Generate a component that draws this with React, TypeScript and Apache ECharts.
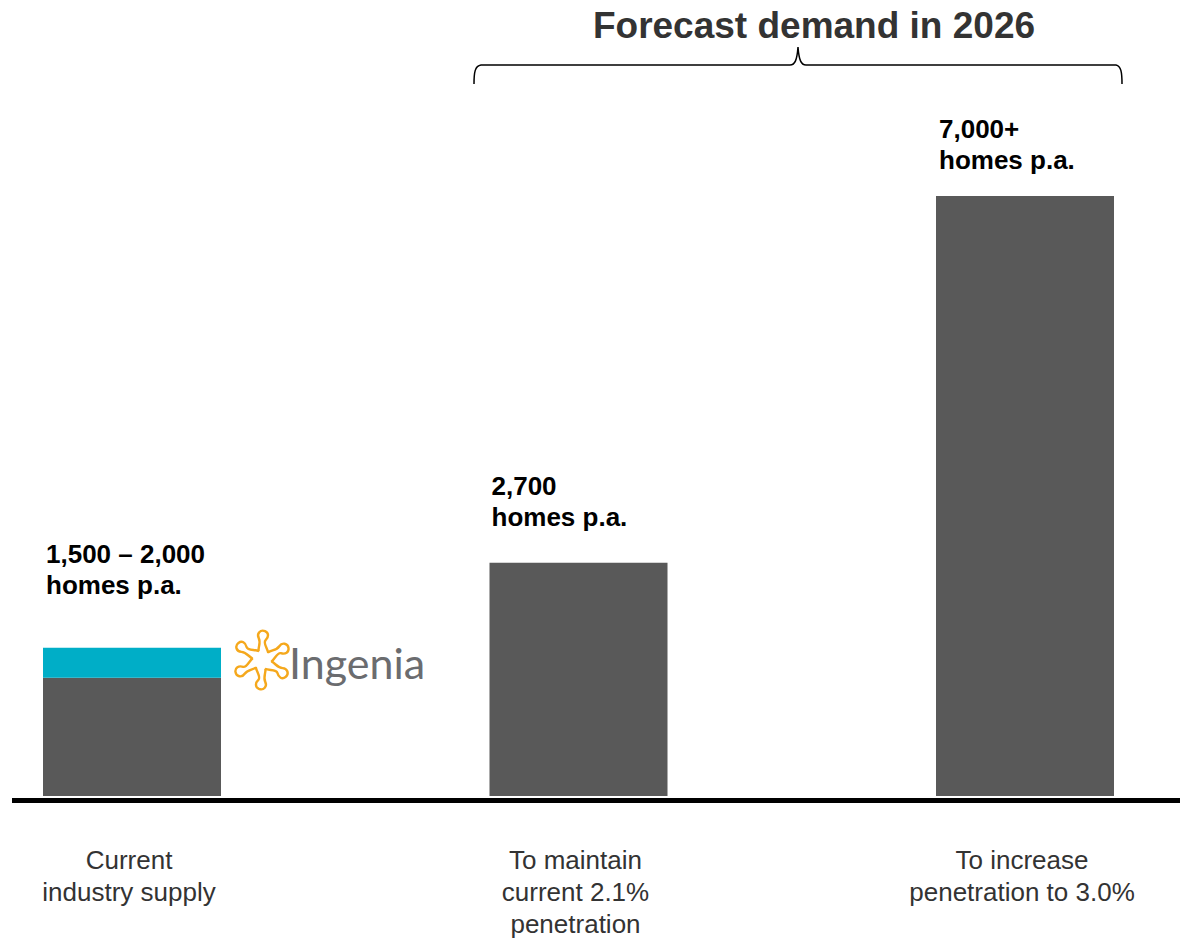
import React, { useEffect, useRef } from "react";
import * as echarts from "echarts";

const categories = [
  "Current\nindustry supply",
  "To maintain\ncurrent 2.1%\npenetration",
  "To increase\npenetration to 3.0%",
];
const baseValues = [1380, 2720, 7000];
const industryTopValues: (number | null)[] = [350, null, null];
const valueLabels = ["1,500 – 2,000\nhomes p.a.", "2,700\nhomes p.a.", "7,000+\nhomes p.a."];
const titleText = "Forecast demand in 2026";
const logoText = "Ingenia";

const labelOffsets = [
  [3, -109],
  [2, -92],
  [3, -83],
];

const FONT = "'Liberation Sans', Arial, Helvetica, sans-serif";

const bracketPath =
  "M474,84 C474,72 475,66 481,65 L790,65 C795,65 797,60 798,47 C799,60 801,65 806,65 L1116,65 C1121,66 1122,72 1122,84";
const petalPath =
  "M8,-5 C13,-6 17,-4 21,-7 C25,-10 30,-7 29,-2 C28,2 24,3 20,0 C17,-2 13,3 8,5";

export default function App() {
  const ref = useRef<HTMLDivElement>(null);
  useEffect(() => {
    if (!ref.current) return;
    echarts.graphic.registerShape("bracket", echarts.graphic.extendPath(bracketPath, {}));
    echarts.graphic.registerShape("petal", echarts.graphic.extendPath(petalPath, {}));
    const chart = echarts.init(ref.current, null, { renderer: "svg" });

    const labelStyle = {
      fontSize: 26,
      fontWeight: "bold" as const,
      color: "#000",
      lineHeight: 31,
      fontFamily: FONT,
      align: "left" as const,
      verticalAlign: "top" as const,
    };

    const petals = [0, 1, 2, 3, 4, 5].map((k) => ({
      type: "petal",
      x: 262,
      y: 660,
      rotation: (k * Math.PI) / 3 + 0.35,
      style: { stroke: "#F5A81C", fill: "none", lineWidth: 2.4 },
      z: 10,
    }));

    chart.setOption({
      animation: false,
      grid: { left: 132, right: 155, top: 196, bottom: 138, containLabel: false },
      xAxis: {
        type: "category",
        data: categories,
        boundaryGap: false,
        axisLine: { show: false },
        axisTick: { show: false },
        splitLine: { show: false },
        axisLabel: {
          interval: 0,
          margin: 48,
          fontSize: 26,
          lineHeight: 32,
          color: "#333",
          fontFamily: FONT,
          align: "center",
          padding: [0, 6, 0, 0],
        },
      },
      yAxis: {
        type: "value",
        min: 0,
        max: 7000,
        show: false,
        splitLine: { show: false },
      },
      series: [
        {
          type: "bar",
          stack: "supply",
          barWidth: 178,
          clip: false,
          itemStyle: { color: "#595959" },
          data: baseValues.map((v, i) => ({
            value: v,
            label:
              i === 0
                ? { show: false }
                : { show: true, formatter: valueLabels[i], position: labelOffsets[i], ...labelStyle },
          })),
        },
        {
          type: "bar",
          stack: "supply",
          barWidth: 178,
          clip: false,
          itemStyle: { color: "#00AEC7" },
          data: industryTopValues.map((v, i) =>
            v == null
              ? "-"
              : {
                  value: v,
                  label: { show: true, formatter: valueLabels[i], position: labelOffsets[i], ...labelStyle },
                }
          ),
        },
      ],
      graphic: [
        {
          type: "line",
          shape: { x1: 12, y1: 800.5, x2: 1180, y2: 800.5 },
          style: { stroke: "#000", lineWidth: 5 },
          z: 20,
        },
        {
          type: "text",
          x: 814,
          y: 25,
          style: {
            text: titleText,
            fontSize: 37,
            fontWeight: "bold",
            fill: "#333",
            fontFamily: FONT,
            align: "center",
            verticalAlign: "middle",
          },
        },
        {
          type: "bracket",
          x: 0,
          y: 0,
          style: { stroke: "#000", fill: "none", lineWidth: 1.5 },
        },
        ...petals,
        {
          type: "text",
          x: 289,
          y: 662,
          style: {
            text: logoText,
            fontSize: 43,
            fill: "#6B6C6F",
            fontFamily: "Lato, 'Open Sans', sans-serif",
            align: "left",
            verticalAlign: "middle",
          },
        },
      ],
    });
    return () => chart.dispose();
  }, []);
  return (
    <div
      ref={ref}
      style={{ position: "absolute", left: 0, top: 0, width: 1180, height: 940, background: "#fff" }}
    />
  );
}
